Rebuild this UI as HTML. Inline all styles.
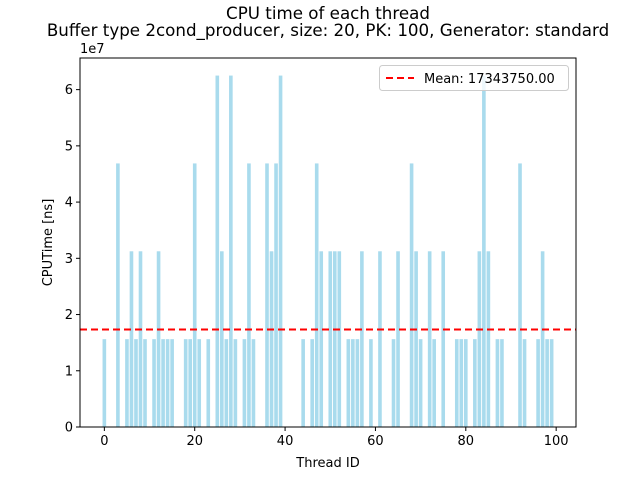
<!DOCTYPE html>
<html><head><meta charset="utf-8"><style>
body{margin:0;background:#fff;}
svg text{font-family:"DejaVu Sans","Liberation Sans",sans-serif;fill:#000;}
</style></head><body>
<svg id="chart" width="640" height="480" viewBox="0 0 640 480" xmlns="http://www.w3.org/2000/svg">
<rect width="640" height="480" fill="#fff"/>
<text x="328" y="19" font-size="16.7" text-anchor="middle">CPU time of each thread</text>
<text x="328" y="36" font-size="16.7" text-anchor="middle">Buffer type 2cond_producer, size: 20, PK: 100, Generator: standard</text>
<g id="bars"></g>
<g id="axes"></g>
</svg>
<script>
const threadIds=[0,3,5,6,7,8,9,11,12,13,14,15,18,19,20,21,23,25,26,27,28,29,31,32,33,36,37,38,39,44,46,47,48,50,51,52,54,55,56,57,59,61,64,65,68,69,70,72,73,75,78,79,80,82,83,84,85,87,88,92,93,96,97,98,99];
const cpuUnits=[1,3,1,2,1,2,1,1,2,1,1,1,1,1,3,1,1,4,2,1,4,1,1,3,1,3,2,3,4,1,1,3,2,2,2,2,1,1,1,2,1,2,1,2,3,2,1,2,1,2,1,1,1,1,2,4,2,1,1,3,1,1,2,1,1];
const unitNs=15625000;
const meanValue=17343750;
const yTicks=[0,1,2,3,4,5,6];
const xTicks=[0,20,40,60,80,100];
const L=80,R=576,T=58,B=427;
const xmin=-5.39,xmax=104.39,ymax=6.5625e7;
const xs=v=>L+(v-xmin)/(xmax-xmin)*(R-L);
const ys=v=>B-v/ymax*(B-T);
const NS='http://www.w3.org/2000/svg';
function mk(tag,attrs,parent,text){const e=document.createElementNS(NS,tag);for(const k in attrs)e.setAttribute(k,attrs[k]);if(text!==undefined)e.textContent=text;parent.appendChild(e);return e;}
const bars=document.getElementById('bars'),axes=document.getElementById('axes');
threadIds.forEach((id,i)=>{const v=cpuUnits[i]*unitNs;const x0=xs(id-0.4),x1=xs(id+0.4);
const r=mk('rect',{x:x0,y:ys(v),width:x1-x0,height:B-ys(v),fill:'#a9dbed'},bars);

});
const ml=mk('line',{x1:L,x2:R,y1:ys(meanValue),y2:ys(meanValue),stroke:'#ff0000','stroke-width':2,'stroke-dasharray':'7,4'},axes);


const fr=mk('rect',{x:L,y:T,width:R-L,height:B-T,fill:'none',stroke:'#000','stroke-width':1},axes);


yTicks.forEach(t=>{const y=ys(t*1e7);mk('line',{x1:L-4,x2:L,y1:y,y2:y,stroke:'#000'},axes);
const tx=mk('text',{x:L-7,y:y+4.5,'font-size':13,'text-anchor':'end'},axes,String(t));

});
xTicks.forEach(t=>{const x=xs(t);mk('line',{x1:x,x2:x,y1:B,y2:B+4,stroke:'#000'},axes);
const tx=mk('text',{x:x,y:B+18,'font-size':13,'text-anchor':'middle'},axes,String(t));

});
const ex=mk('text',{x:L,y:T-5,'font-size':13},axes,'1e7');


const xl=mk('text',{x:(L+R)/2,y:467,'font-size':13,'text-anchor':'middle'},axes,'Thread ID');


const yl=mk('text',{x:0,y:0,'font-size':13,'text-anchor':'middle',transform:'translate(52,'+((T+B)/2)+') rotate(-90)'},axes,'CPUTime [ns]');


const lg=mk('g',{},axes);


mk('rect',{x:379.5,y:65.5,width:189,height:25,rx:3,fill:'#fff','fill-opacity':0.8,stroke:'#ccc'},lg);
mk('line',{x1:386,x2:414,y1:78,y2:78,stroke:'#ff0000','stroke-width':2,'stroke-dasharray':'7,4'},lg);
const lt=mk('text',{x:424,y:83,'font-size':13},lg,'Mean: '+meanValue.toFixed(2));


</script>
</body></html>
